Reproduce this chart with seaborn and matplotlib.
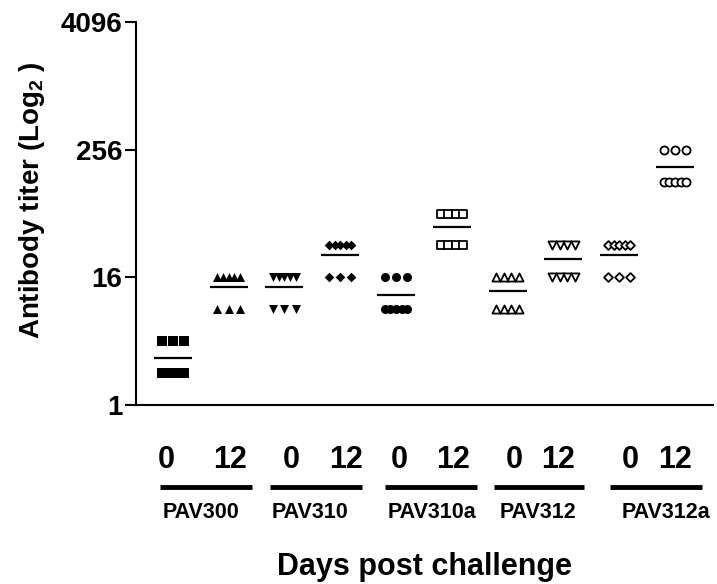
import numpy as np
import pandas as pd
import matplotlib
matplotlib.use('Agg')
import matplotlib.pyplot as plt
import matplotlib.transforms as mtransforms
import seaborn as sns

# antibody titers per animal (8 animals per column)
strains = ['PAV300', 'PAV310', 'PAV310a', 'PAV312', 'PAV312a']
days = ['0', '12']
titers = [
    [4, 4, 4, 2, 2, 2, 2, 2],            # PAV300 day 0
    [16, 16, 16, 16, 16, 8, 8, 8],       # PAV300 day 12
    [16, 16, 16, 16, 16, 8, 8, 8],       # PAV310 day 0
    [32, 32, 32, 32, 32, 16, 16, 16],    # PAV310 day 12
    [16, 16, 16, 8, 8, 8, 8, 8],         # PAV310a day 0
    [64, 64, 64, 64, 32, 32, 32, 32],    # PAV310a day 12
    [16, 16, 16, 16, 8, 8, 8, 8],        # PAV312 day 0
    [32, 32, 32, 32, 16, 16, 16, 16],    # PAV312 day 12
    [32, 32, 32, 32, 32, 16, 16, 16],    # PAV312a day 0
    [256, 256, 256, 128, 128, 128, 128, 128],  # PAV312a day 12
]
markers = ['s', '^', 'v', 'D', 'o', 's', '^', 'v', 'D', 'o']
filled = [True, True, True, True, True, False, False, False, False, False]

# layout helpers
tick_pos = [-0.11, 1.02, 2.13, 3.10, 4.05, 5.02, 6.11, 6.90, 8.19, 9.00]
underline = [(-0.23, 1.42), (1.74, 3.39), (3.80, 5.45), (5.75, 7.37), (7.83, 9.48)]
strain_x = [0.50, 2.45, 4.64, 6.54, 8.83]

# build long table, points with equal value spread side by side
rows = []
for i, vals in enumerate(titers):
    vals = np.array(vals)
    for v in np.unique(vals):
        k = (vals == v).sum()
        offs = np.linspace(-0.2, 0.2, k) if k > 1 else [0.0]
        for o in offs:
            rows.append({'col': i, 'x': i + o, 'titer': v})
df = pd.DataFrame(rows)

sns.set_style('ticks')
plt.rcParams['font.family'] = ['Liberation Sans', 'DejaVu Sans']
plt.rcParams['font.weight'] = 'bold'
plt.rcParams['mathtext.default'] = 'regular'
plt.rcParams['text.color'] = 'black'
plt.rcParams['axes.labelcolor'] = 'black'

fig = plt.figure(figsize=(7.17, 5.84), dpi=100)
ax = fig.add_axes([0.1897, 0.3065, 0.8047, 0.6558])

for i in range(len(titers)):
    sub = df[df['col'] == i]
    if markers[i] == 'D':
        size = 24 if filled[i] else 20
    else:
        size = 42 if filled[i] else 34
    sns.scatterplot(data=sub, x='x', y='titer', marker=markers[i], s=size,
                    color='black' if filled[i] else 'white', edgecolor='black',
                    linewidth=0 if filled[i] else 1.3, ax=ax, legend=False,
                    zorder=3, clip_on=False)
    # mean line (arithmetic mean of titers)
    ax.hlines(np.mean(titers[i]), i - 0.34, i + 0.34, color='black', lw=1.6, zorder=2)

ax.set_yscale('log', base=2)
ax.set_ylim(1, 4096)
ax.set_yticks([1, 16, 256, 4096])
ax.set_yticklabels(['1', '16', '256', '4096'])
ax.minorticks_off()
ax.set_xlim(-0.66, 9.68)
ax.set_xticks(tick_pos)
ax.set_xticklabels(days * len(strains))

for s in ['top', 'right']:
    ax.spines[s].set_visible(False)
for s in ['left', 'bottom']:
    ax.spines[s].set_linewidth(1.5)
    ax.spines[s].set_color('black')

ax.tick_params(axis='y', length=8, width=1.5, pad=2, labelsize=20,
               colors='black', labelcolor='black')
ax.tick_params(axis='x', length=0, pad=29, labelsize=22, labelcolor='black')
for lab in ax.get_xticklabels() + ax.get_yticklabels():
    lab.set_fontweight('bold')

trans = mtransforms.blended_transform_factory(ax.transData, ax.transAxes)
for (x0, x1), sx, name in zip(underline, strain_x, strains):
    ax.plot([x0, x1], [-0.214, -0.214], color='black', lw=3.5, transform=trans,
            clip_on=False, solid_capstyle='butt')
    ax.text(sx, -0.281, name, transform=trans, ha='center', va='center',
            fontsize=15.5, fontweight='bold', color='black')

ax.set_xlabel('Days post challenge', fontsize=22, fontweight='bold', color='black')
ax.xaxis.set_label_coords(0.5, -0.385)
ax.xaxis.label.set_va('top')
ax.set_ylabel('Antibody titer (Log$_2$ )', fontsize=20, fontweight='bold', color='black')
ax.yaxis.set_label_coords(-0.155, 0.535)

fig.savefig('out.png', dpi=100)
